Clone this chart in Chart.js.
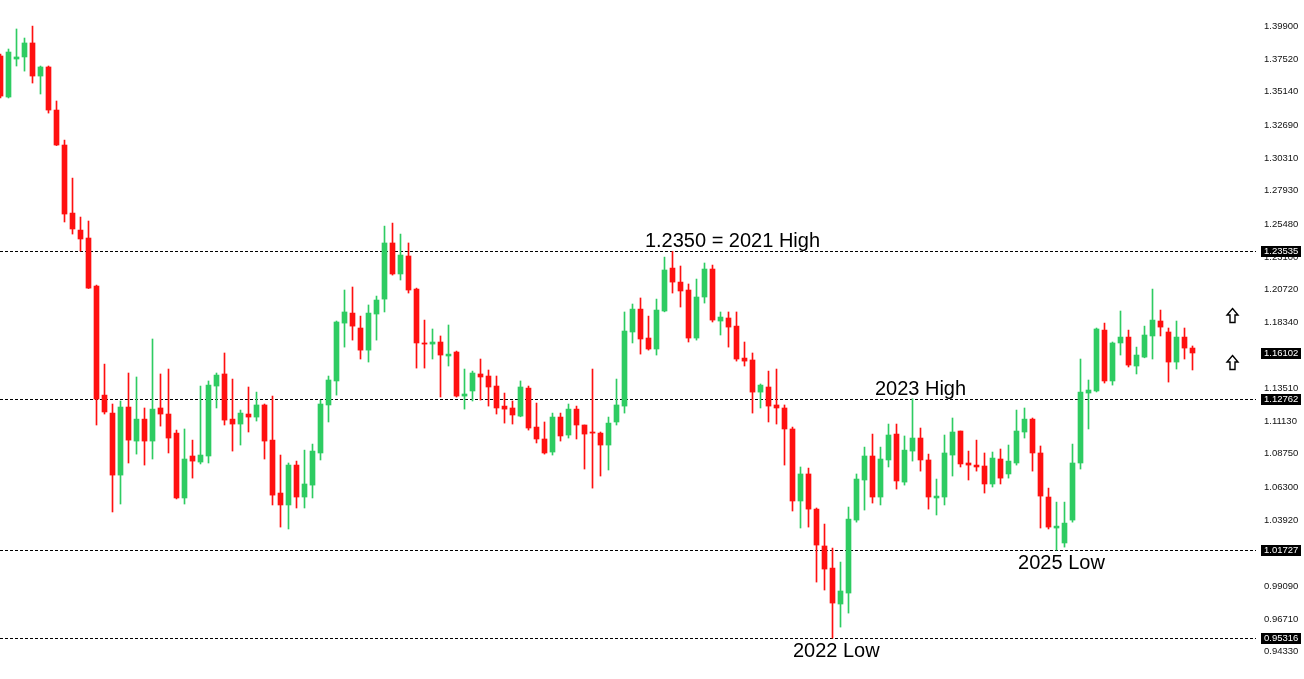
<!DOCTYPE html>
<html>
<head>
<meta charset="utf-8">
<script src="https://cdn.jsdelivr.net/npm/chart.js@4.4.1/dist/chart.umd.min.js"></script>
<style>
  html, body { margin: 0; padding: 0; background: #fff; }
  #wrap { width: 1304px; height: 679px; }
</style>
</head>
<body>
<div id="wrap"><canvas id="chart" width="1304" height="679"></canvas></div>
<script>
// weekly candles, oldest first
var OPEN = [1.3775,1.3476,1.3753,1.3768,1.3870,1.3629,1.3695,1.3381,1.3126,1.2630,
  1.2506,1.2448,1.2098,1.1303,1.1172,1.0720,1.1216,1.0968,1.1128,1.0968,
  1.1209,1.1165,1.1026,1.0553,1.0859,1.0815,1.0859,1.1369,1.1457,1.1128,
  1.1092,1.1165,1.1143,1.1231,1.0975,1.0589,1.0502,1.0793,1.0560,1.0647,
  1.0881,1.1231,1.1406,1.1828,1.1901,1.1792,1.1631,1.1894,1.2003,1.2412,
  1.2186,1.2317,1.2076,1.1683,1.1675,1.1690,1.1588,1.1617,1.1296,1.1333,
  1.1457,1.1442,1.1369,1.1223,1.1209,1.1150,1.1354,1.1070,1.0983,1.0888,
  1.1143,1.1012,1.1201,1.1085,1.1034,1.1026,1.0939,1.1107,1.1223,1.1763,
  1.1930,1.1719,1.1639,1.1916,1.2229,1.2127,1.2069,1.1719,1.2018,1.2222,
  1.1843,1.1865,1.1806,1.1573,1.1559,1.1325,1.1362,1.1231,1.1209,1.1056,
  1.0531,1.0728,1.0472,1.0203,1.0042,0.9780,0.9860,1.0392,1.0684,1.0859,
  1.0560,1.0830,1.1019,1.0669,1.0895,1.0990,1.0830,1.0553,1.0560,1.0866,
  1.1041,1.0808,1.0793,1.0786,1.0655,1.0837,1.0728,1.0808,1.1034,1.1128,
  1.0881,1.0560,1.0334,1.0225,1.0392,1.0808,1.1318,1.1333,1.1777,1.1406,
  1.1683,1.1726,1.1515,1.1580,1.1734,1.1843,1.1763,1.1544,1.1726,1.1646];
var HIGH = [1.3789,1.3826,1.3972,1.3906,1.3993,1.3702,1.3702,1.3447,1.3162,1.2885,
  1.2601,1.2572,1.2105,1.1529,1.1238,1.1260,1.1464,1.1435,1.1209,1.1712,
  1.1457,1.1493,1.1048,1.1056,1.0975,1.1369,1.1406,1.1464,1.1610,1.1420,
  1.1194,1.1362,1.1325,1.1238,1.1296,1.0866,1.0808,1.0822,1.0902,1.0946,
  1.1267,1.1442,1.1843,1.2069,1.2091,1.1879,1.1960,1.2025,1.2535,1.2557,
  1.2477,1.2412,1.2083,1.1850,1.1785,1.1734,1.1814,1.1624,1.1493,1.1478,
  1.1566,1.1486,1.1442,1.1318,1.1260,1.1406,1.1369,1.1245,1.1107,1.1172,
  1.1172,1.1238,1.1223,1.1085,1.1493,1.1034,1.1143,1.1420,1.1909,1.1967,
  1.2011,1.1879,1.2003,1.2309,1.2350,1.2244,1.2113,1.2149,1.2266,1.2251,
  1.1909,1.1909,1.1909,1.1690,1.1610,1.1384,1.1478,1.1493,1.1231,1.1070,
  1.0779,1.0771,1.0480,1.0363,1.0188,1.0086,1.0487,1.0728,1.0924,1.1019,
  1.0924,1.1092,1.1092,1.1005,1.1276,1.1063,1.0873,1.0691,1.1012,1.1136,
  1.1041,1.0895,1.0975,1.0881,1.0888,1.0910,1.0939,1.1194,1.1209,1.1136,
  1.0932,1.0625,1.0523,1.0523,1.0946,1.1566,1.1413,1.1792,1.1828,1.1690,
  1.1916,1.1777,1.1653,1.1806,1.2076,1.1923,1.1792,1.1843,1.1792,1.1661];
var LOW = [1.3469,1.3469,1.3702,1.3665,1.3578,1.3498,1.3359,1.3122,1.2565,1.2477,
  1.2353,1.2080,1.1085,1.1165,1.0451,1.0509,1.0808,1.0873,1.0793,1.0837,
  1.1077,1.0881,1.0546,1.0509,1.0698,1.0801,1.0808,1.1209,1.1085,1.0895,
  1.0939,1.1034,1.1114,1.0837,1.0502,1.0341,1.0327,1.0480,1.0480,1.0553,
  1.0830,1.1107,1.1303,1.1653,1.1704,1.1566,1.1544,1.1704,1.1909,1.2178,
  1.2142,1.2047,1.1500,1.1500,1.1566,1.1289,1.1515,1.1289,1.1201,1.1260,
  1.1267,1.1223,1.1165,1.1099,1.1092,1.1145,1.1048,1.0954,1.0873,1.0866,
  1.0968,1.0990,1.0983,1.0764,1.0625,1.0713,1.0757,1.1085,1.1172,1.1683,
  1.1602,1.1631,1.1595,1.1910,1.2047,1.1945,1.1690,1.1704,1.1974,1.1836,
  1.1741,1.1653,1.1551,1.1515,1.1172,1.1209,1.1107,1.1092,1.0793,1.0458,
  1.0334,1.0341,0.9940,0.9882,0.9532,0.9612,0.9714,1.0377,1.0465,1.0516,
  1.0502,1.0779,1.0618,1.0647,1.0822,1.0749,1.0472,1.0429,1.0502,1.0713,
  1.0779,1.0684,1.0749,1.0589,1.0633,1.0655,1.0698,1.0793,1.0990,1.0749,
  1.0334,1.0327,1.0173,1.0195,1.0377,1.0764,1.1056,1.1326,1.1391,1.1376,
  1.1595,1.1508,1.1457,1.1575,1.1566,1.1734,1.1398,1.1493,1.1566,1.1486];
var CLOSE = [1.3483,1.3804,1.3768,1.3870,1.3629,1.3695,1.3381,1.3126,1.2623,1.2514,
  1.2441,1.2083,1.1274,1.1180,1.0720,1.1216,1.0975,1.1128,1.0968,1.1201,
  1.1165,1.0990,1.0553,1.0837,1.0822,1.0866,1.1376,1.1449,1.1121,1.1092,
  1.1172,1.1143,1.1231,1.0968,1.0574,1.0502,1.0793,1.0560,1.0655,1.0895,
  1.1238,1.1413,1.1836,1.1909,1.1806,1.1631,1.1901,1.1996,1.2412,1.2186,
  1.2324,1.2069,1.1683,1.1675,1.1690,1.1595,1.1602,1.1296,1.1311,1.1464,
  1.1435,1.1362,1.1209,1.1201,1.1158,1.1362,1.1063,1.0983,1.0881,1.1143,
  1.1005,1.1201,1.1085,1.1019,1.1026,1.0939,1.1099,1.1231,1.1770,1.1930,
  1.1712,1.1639,1.1923,1.2215,1.2127,1.2062,1.1719,1.2018,1.2222,1.1850,
  1.1872,1.1799,1.1566,1.1551,1.1325,1.1376,1.1223,1.1209,1.1056,1.0531,
  1.0728,1.0472,1.0210,1.0035,0.9787,0.9875,1.0399,1.0691,1.0859,1.0560,
  1.0837,1.1012,1.0677,1.0902,1.0990,1.0830,1.0560,1.0567,1.0881,1.1034,
  1.0801,1.0793,1.0779,1.0655,1.0844,1.0698,1.0822,1.1041,1.1128,1.0881,
  1.0567,1.0341,1.0348,1.0370,1.0808,1.1325,1.1340,1.1785,1.1406,1.1683,
  1.1726,1.1522,1.1595,1.1741,1.1850,1.1799,1.1544,1.1726,1.1646,1.1610];

// price scale labels as shown on the right
var TICKS = [1.39900,1.37520,1.35140,1.32690,1.30310,1.27930,1.25480,1.23100,1.20720,1.18340,
  1.15960,1.13510,1.11130,1.08750,1.06300,1.03920,1.01540,0.99090,0.96710,0.94330];

// horizontal levels (dashed) and the current price
var LEVELS = [1.23535, 1.12762, 1.01727, 0.95316];
var LAST_PRICE = 1.16102;

// text notes: [label, bar index, price]
var NOTES = [
  ["1.2350 = 2021 High", 80.55, 1.2420],
  ["2023 High", 109.3, 1.1342],
  ["2025 Low", 127.2, 1.0079],
  ["2022 Low", 99.05, 0.9437]
];
// up arrows: [bar index, price at tip]
var ARROWS = [[153.9, 1.1940], [153.9, 1.1595]];

var UP = '#2ecc62', DOWN = '#ff1010';

var colours = CLOSE.map(function(c, i) { return c >= OPEN[i] ? UP : DOWN; });
var wicks = LOW.map(function(l, i) { return {x: i, y: [l, HIGH[i]]}; });
var bodies = OPEN.map(function(o, i) { return {x: i, y: [o, CLOSE[i]]}; });

var levelsPlugin = {
  id: 'levels',
  beforeDatasetsDraw: function(chart) {
    var ctx = chart.ctx, y = chart.scales.y;
    ctx.save();
    ctx.strokeStyle = '#000';
    ctx.lineWidth = 1;
    ctx.setLineDash([3, 2]);
    LEVELS.forEach(function(v) {
      var py = Math.round(y.getPixelForValue(v)) + 0.5;
      ctx.beginPath();
      ctx.moveTo(0, py);
      ctx.lineTo(1256, py);
      ctx.stroke();
    });
    ctx.restore();
  },
  afterDraw: function(chart) {
    var ctx = chart.ctx, x = chart.scales.x, y = chart.scales.y;
    ctx.save();
    // price boxes on the scale
    ctx.font = '9.5px "Liberation Sans", Arial, sans-serif';
    ctx.textBaseline = 'middle';
    ctx.textAlign = 'left';
    LEVELS.concat([LAST_PRICE]).forEach(function(v) {
      var py = Math.round(y.getPixelForValue(v));
      ctx.fillStyle = '#000';
      ctx.fillRect(1261, py - 5, 40, 11);
      ctx.fillStyle = '#fff';
      ctx.fillText(v.toFixed(5), 1264, py + 0.5);
    });
    // notes
    ctx.fillStyle = '#000';
    ctx.font = '20px "Liberation Sans", Arial, sans-serif';
    NOTES.forEach(function(n) {
      ctx.fillText(n[0], x.getPixelForValue(n[1]), y.getPixelForValue(n[2]));
    });
    // hollow up arrows
    ARROWS.forEach(function(a) {
      var cx = Math.round(x.getPixelForValue(a[0])) + 0.5;
      var ty = Math.round(y.getPixelForValue(a[1])) + 0.5;
      ctx.beginPath();
      ctx.moveTo(cx, ty);
      ctx.lineTo(cx + 5.5, ty + 6.5);
      ctx.lineTo(cx + 2.5, ty + 6.5);
      ctx.lineTo(cx + 2.5, ty + 14);
      ctx.lineTo(cx - 2.5, ty + 14);
      ctx.lineTo(cx - 2.5, ty + 6.5);
      ctx.lineTo(cx - 5.5, ty + 6.5);
      ctx.closePath();
      ctx.fillStyle = '#fff';
      ctx.fill();
      ctx.strokeStyle = '#000';
      ctx.lineWidth = 1.4;
      ctx.stroke();
    });
    ctx.restore();
  }
};

new Chart(document.getElementById('chart'), {
  type: 'bar',
  data: {
    datasets: [
      {
        label: 'range',
        data: wicks,
        backgroundColor: colours,
        barThickness: 1,
        grouped: false,
        order: 2
      },
      {
        label: 'body',
        data: bodies,
        backgroundColor: colours,
        barThickness: 5,
        minBarLength: 1,
        grouped: false,
        order: 1
      }
    ]
  },
  options: {
    responsive: false,
    animation: false,
    devicePixelRatio: 1,
    layout: { padding: 0 },
    plugins: {
      legend: { display: false },
      tooltip: { enabled: false }
    },
    scales: {
      x: {
        type: 'linear',
        display: false,
        offset: false,
        min: -0.0625,
        max: 156.3125
      },
      y: {
        position: 'right',
        min: 0.92334,
        max: 1.41833,
        border: { display: false },
        grid: { display: false, drawTicks: false },
        afterBuildTicks: function(scale) {
          scale.ticks = TICKS.map(function(v) { return {value: v}; });
        },
        afterFit: function(scale) {
          scale.width = 53;
          scale.paddingTop = 0;
          scale.paddingBottom = 0;
        },
        ticks: {
          padding: 13,
          color: '#111',
          font: { family: '"Liberation Sans", Arial, sans-serif', size: 9.5 },
          callback: function(v) { return Number(v).toFixed(5); }
        }
      }
    }
  },
  plugins: [levelsPlugin]
});
</script>
</body>
</html>
